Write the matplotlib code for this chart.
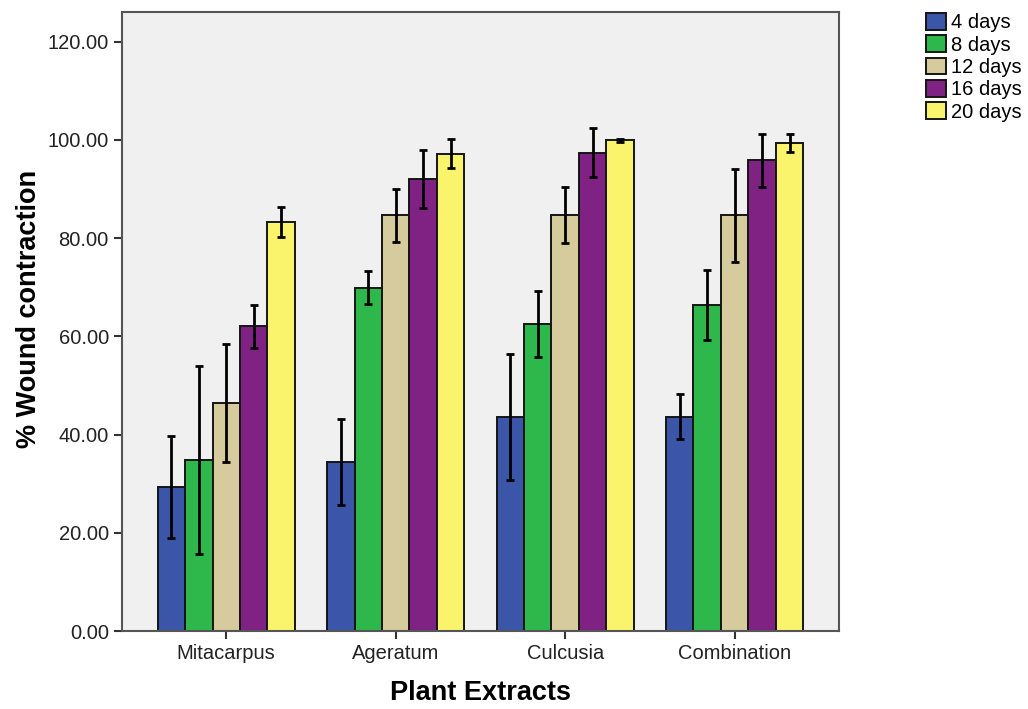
import numpy as np
import matplotlib
matplotlib.use("Agg")
import matplotlib.pyplot as plt

plt.rcParams['font.family'] = ['Liberation Sans', 'DejaVu Sans']

extracts = ['Mitacarpus', 'Ageratum', 'Culcusia', 'Combination']
days = ['4 days', '8 days', '12 days', '16 days', '20 days']

# mean % wound contraction per extract, one list per day
d4 = [29.3, 34.4, 43.6, 43.6]
d8 = [34.8, 69.9, 62.5, 66.3]
d12 = [46.5, 84.6, 84.7, 84.6]
d16 = [62.0, 92.1, 97.4, 95.8]
d20 = [83.3, 97.2, 99.9, 99.3]

# error bar half widths
e4 = [10.3, 8.8, 12.8, 4.6]
e8 = [19.2, 3.3, 6.8, 7.1]
e12 = [12.0, 5.4, 5.7, 9.5]
e16 = [4.4, 5.9, 5.0, 5.4]
e20 = [3.0, 2.9, 0.3, 1.8]

means = [d4, d8, d12, d16, d20]
errs = [e4, e8, e12, e16, e20]
colors = ['#3b55a8', '#2eb84b', '#d6cb9c', '#7f2283', '#faf46c']

fig = plt.figure(figsize=(10.28, 7.09), dpi=100)
ax = fig.add_axes([0.1187, 0.110, 0.6973, 0.873])
ax.set_facecolor('#f0f0f0')

x = np.arange(len(extracts))
w = 0.162
for i in range(5):
    pos = x + (i - 2) * w
    ax.bar(pos, means[i], w, color=colors[i], edgecolor='#151515', linewidth=1.4,
           label=days[i], zorder=2)
    ax.errorbar(pos, means[i], yerr=errs[i], fmt='none', ecolor='black',
                elinewidth=2, capsize=3, capthick=2, zorder=3)

ax.set_xlim(-0.615, 3.615)
ax.set_ylim(0, 126)
ax.set_yticks(np.arange(0, 121, 20))
ax.set_yticklabels(['%.2f' % v for v in np.arange(0, 121, 20)])
ax.set_xticks(x)
ax.set_xticklabels(extracts)
ax.tick_params(axis='both', labelsize=14.5, colors='#333333', width=1.5, length=6)
ax.tick_params(axis='both', labelcolor='#222222')
for s in ax.spines.values():
    s.set_color('#555555')
    s.set_linewidth(1.5)

ax.set_xlabel('Plant Extracts', fontsize=19.5, fontweight='bold', labelpad=12)
ax.set_ylabel('% Wound contraction', fontsize=19.5, fontweight='bold')
ax.yaxis.set_label_coords(-0.112, 0.52)

fig.legend(loc='upper left', bbox_to_anchor=(0.893, 0.993), frameon=False,
           fontsize=14.5, handlelength=1.0, handleheight=0.9, handletextpad=0.25,
           labelspacing=0.15, borderaxespad=0)

fig.savefig('out.png', dpi=100)
